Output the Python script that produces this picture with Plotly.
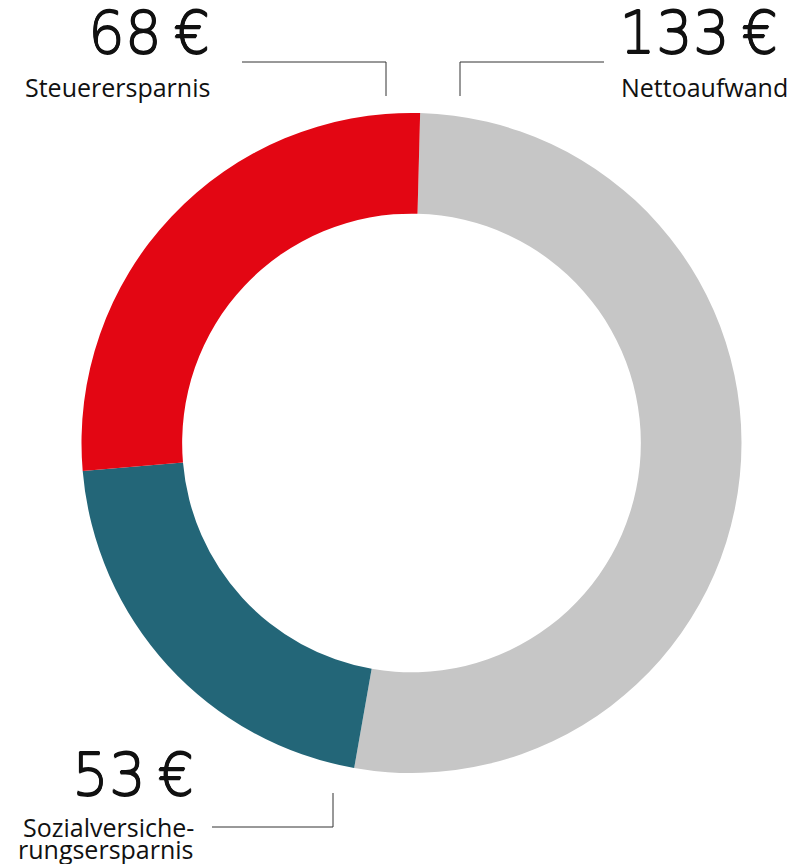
import plotly.graph_objects as go

W, H = 807, 864
OFF = 8  # page body margin

labels = ["Nettoaufwand", "Sozialversicherungsersparnis", "Steuerersparnis"]
values = [133, 53, 68]
colors = ["#C6C6C6", "#236678", "#E30613"]
value_texts = ["133\u2009€", "53\u2009€", "68\u2009€"]
name_lines = [["Nettoaufwand"], ["Sozialversiche-", "rungsersparnis"], ["Steuerersparnis"]]

def px(x):
    return (x - OFF) / W

def py(y):
    return 1 - (y - OFF) / H

cx, cy, R = 411.5, 443, 330

fig = go.Figure(go.Pie(
    labels=labels,
    values=values,
    marker=dict(colors=colors, line=dict(width=0)),
    hole=0.695,
    sort=False,
    direction="clockwise",
    rotation=1.5,
    textinfo="none",
    hoverinfo="label+value",
    domain=dict(x=[px(cx - R), px(cx + R)], y=[py(cy + R), py(cy - R)]),
    showlegend=False,
))

thick = "0.6px 0 0 #111, -0.6px 0 0 #111, 0 0.6px 0 #111, 0 -0.6px 0 #111"
big = dict(family="DejaVu Sans", size=58, color="#111", weight=200, shadow=thick)
small = dict(family="Open Sans", size=25, color="#111")

annotations = []
# Nettoaufwand (top right)
annotations.append(dict(x=px(617), y=py(33), text=value_texts[0], xanchor="left", yanchor="middle", font=big))
annotations.append(dict(x=px(619), y=py(87.5), text=name_lines[0][0], xanchor="left", yanchor="middle", font=small))
# Steuerersparnis (top left)
annotations.append(dict(x=px(212), y=py(33), text=value_texts[2], xanchor="right", yanchor="middle", font=big))
annotations.append(dict(x=px(212), y=py(87.5), text=name_lines[2][0], xanchor="right", yanchor="middle", font=small))
# Sozialversicherungsersparnis (bottom left)
annotations.append(dict(x=px(196), y=py(775), text=value_texts[1], xanchor="right", yanchor="middle", font=big))
annotations.append(dict(x=px(196), y=py(826.5), text=name_lines[1][0], xanchor="right", yanchor="middle", font=small))
annotations.append(dict(x=px(196), y=py(848.5), text=name_lines[1][1], xanchor="right", yanchor="middle", font=small))

for a in annotations:
    a.update(xref="paper", yref="paper", showarrow=False)

line_style = dict(color="#333333", width=1)
shapes = [
    dict(type="path", path=f"M {px(242)} {py(62)} L {px(386)} {py(62)} L {px(386)} {py(96)}"),
    dict(type="path", path=f"M {px(604)} {py(62)} L {px(460)} {py(62)} L {px(460)} {py(96)}"),
    dict(type="path", path=f"M {px(212)} {py(827)} L {px(333)} {py(827)} L {px(333)} {py(793)}"),
]
for s in shapes:
    s.update(xref="paper", yref="paper", line=line_style)

fig.update_layout(
    width=W, height=H,
    margin=dict(l=0, r=0, t=0, b=0),
    paper_bgcolor="white",
    plot_bgcolor="white",
    annotations=annotations,
    shapes=shapes,
)

fig.write_html("out.html")
